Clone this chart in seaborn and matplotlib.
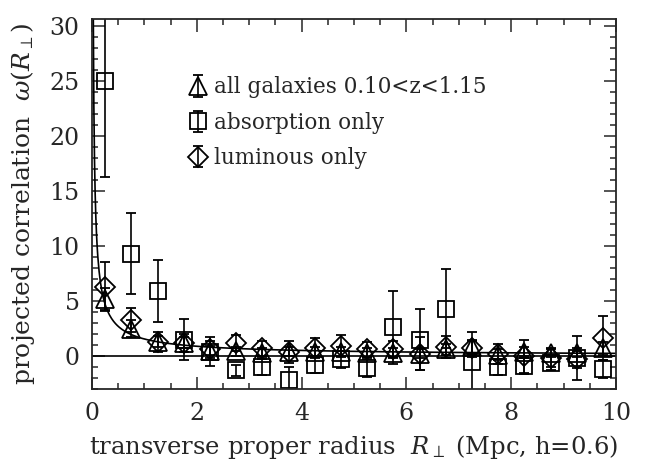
import numpy as np
import pandas as pd
import seaborn as sns
import matplotlib.pyplot as plt
from matplotlib.ticker import MultipleLocator

# bin centres of transverse radius (Mpc)
radius = [0.25, 0.75, 1.25, 1.75, 2.25, 2.75, 3.25, 3.75, 4.25, 4.75,
          5.25, 5.75, 6.25, 6.75, 7.25, 7.75, 8.25, 8.75, 9.25, 9.75]

# all galaxies 0.10<z<1.15 (triangles)
w_all = [5.2, 2.5, 1.3, 1.2, 0.5, 0.45, 0.3, 0.4, 0.4, 0.4,
         0.3, 0.3, 0.2, 0.6, 0.8, 0.1, 0.4, 0.3, 0.3, 0.7]
err_all = [1.0, 0.8, 0.5, 0.5, 0.4, 0.4, 0.4, 0.4, 0.4, 0.4,
           0.4, 0.4, 0.4, 0.5, 0.6, 0.5, 0.4, 0.4, 0.4, 0.6]

# absorption only (squares)
w_abs = [25.0, 9.3, 5.9, 1.5, 0.4, -1.3, -1.0, -2.2, -0.8, -0.3,
         -1.1, 2.6, 1.5, 4.3, -0.5, -1.0, -0.9, -0.6, -0.2, -1.2]
err_abs = [8.7, 3.7, 2.8, 1.9, 1.3, 0.5, 0.7, 1.2, 0.7, 0.8,
           0.8, 3.3, 2.8, 3.6, 2.7, 0.7, 0.7, 0.7, 2.0, 0.8]

# luminous only (diamonds)
w_lum = [6.3, 3.3, 1.3, 1.2, 0.6, 1.2, 0.7, 0.4, 0.7, 0.9,
         0.6, 0.6, 0.2, 0.85, 0.7, 0.2, 0.0, -0.2, -0.3, 1.6]
err_lum = [2.2, 1.1, 0.9, 0.8, 0.8, 0.7, 0.7, 1.0, 0.9, 1.0,
           0.7, 0.8, 1.5, 1.0, 0.8, 0.9, 1.5, 0.8, 0.8, 2.0]

labels = ["all galaxies 0.10<z<1.15", "absorption only", "luminous only"]

# power-law model curve w = A * R^-gamma
amp = 1.55
gamma = 0.8

sns.set_style("ticks")
plt.rcParams["font.family"] = ["DejaVu Serif"]
plt.rcParams["mathtext.fontset"] = "dejavuserif"

data = pd.concat([
    pd.DataFrame({"R": radius, "w": w_all, "err": err_all, "sample": labels[0]}),
    pd.DataFrame({"R": radius, "w": w_abs, "err": err_abs, "sample": labels[1]}),
    pd.DataFrame({"R": radius, "w": w_lum, "err": err_lum, "sample": labels[2]}),
])

fig = plt.figure(figsize=(6.55, 4.66), dpi=100)
ax = fig.add_axes([0.1405, 0.165, 0.80, 0.794])

r_model = np.linspace(0.01, 10, 800)
sns.lineplot(x=r_model, y=amp * r_model ** (-gamma), color="black", lw=1.2, ax=ax)
ax.axhline(0, color="black", lw=1.2)

markers = {labels[0]: ("^", 13), labels[1]: ("s", 11.5), labels[2]: ("D", 10)}
handles = []
for name, grp in data.groupby("sample", sort=False):
    mk, ms = markers[name]
    h = ax.errorbar(grp["R"], grp["w"], yerr=grp["err"], fmt=mk, ms=ms,
                    mfc="none", mec="black", mew=1.3, ecolor="black",
                    elinewidth=1.2, capsize=3.5, capthick=1.2, label=name)
    handles.append(h)

ax.set_xlim(0, 10)
ax.set_ylim(-3, 30.6)
ax.xaxis.set_major_locator(MultipleLocator(2))
ax.xaxis.set_minor_locator(MultipleLocator(0.5))
ax.yaxis.set_major_locator(MultipleLocator(5))
ax.yaxis.set_minor_locator(MultipleLocator(1))
ax.tick_params(which="both", direction="in", top=True, right=True,
               width=1.1, labelsize=17, pad=9)
ax.tick_params(which="major", length=9)
ax.tick_params(which="minor", length=4.5)
for s in ax.spines.values():
    s.set_linewidth(1.3)

ax.set_xlabel(r"transverse proper radius  $R_{\perp}$ (Mpc, h=0.6)", fontsize=17.5, labelpad=6)
ax.set_ylabel(r"projected correlation  $\omega(R_{\perp})$", fontsize=18, labelpad=9)

ax.legend(handles=handles, labels=labels, loc="upper left",
          bbox_to_anchor=(0.183, 0.845), frameon=False, fontsize=15.5,
          handlelength=0.9, handletextpad=0.3, labelspacing=0.62,
          borderpad=0, borderaxespad=0)

fig.savefig("out.png", dpi=100)
